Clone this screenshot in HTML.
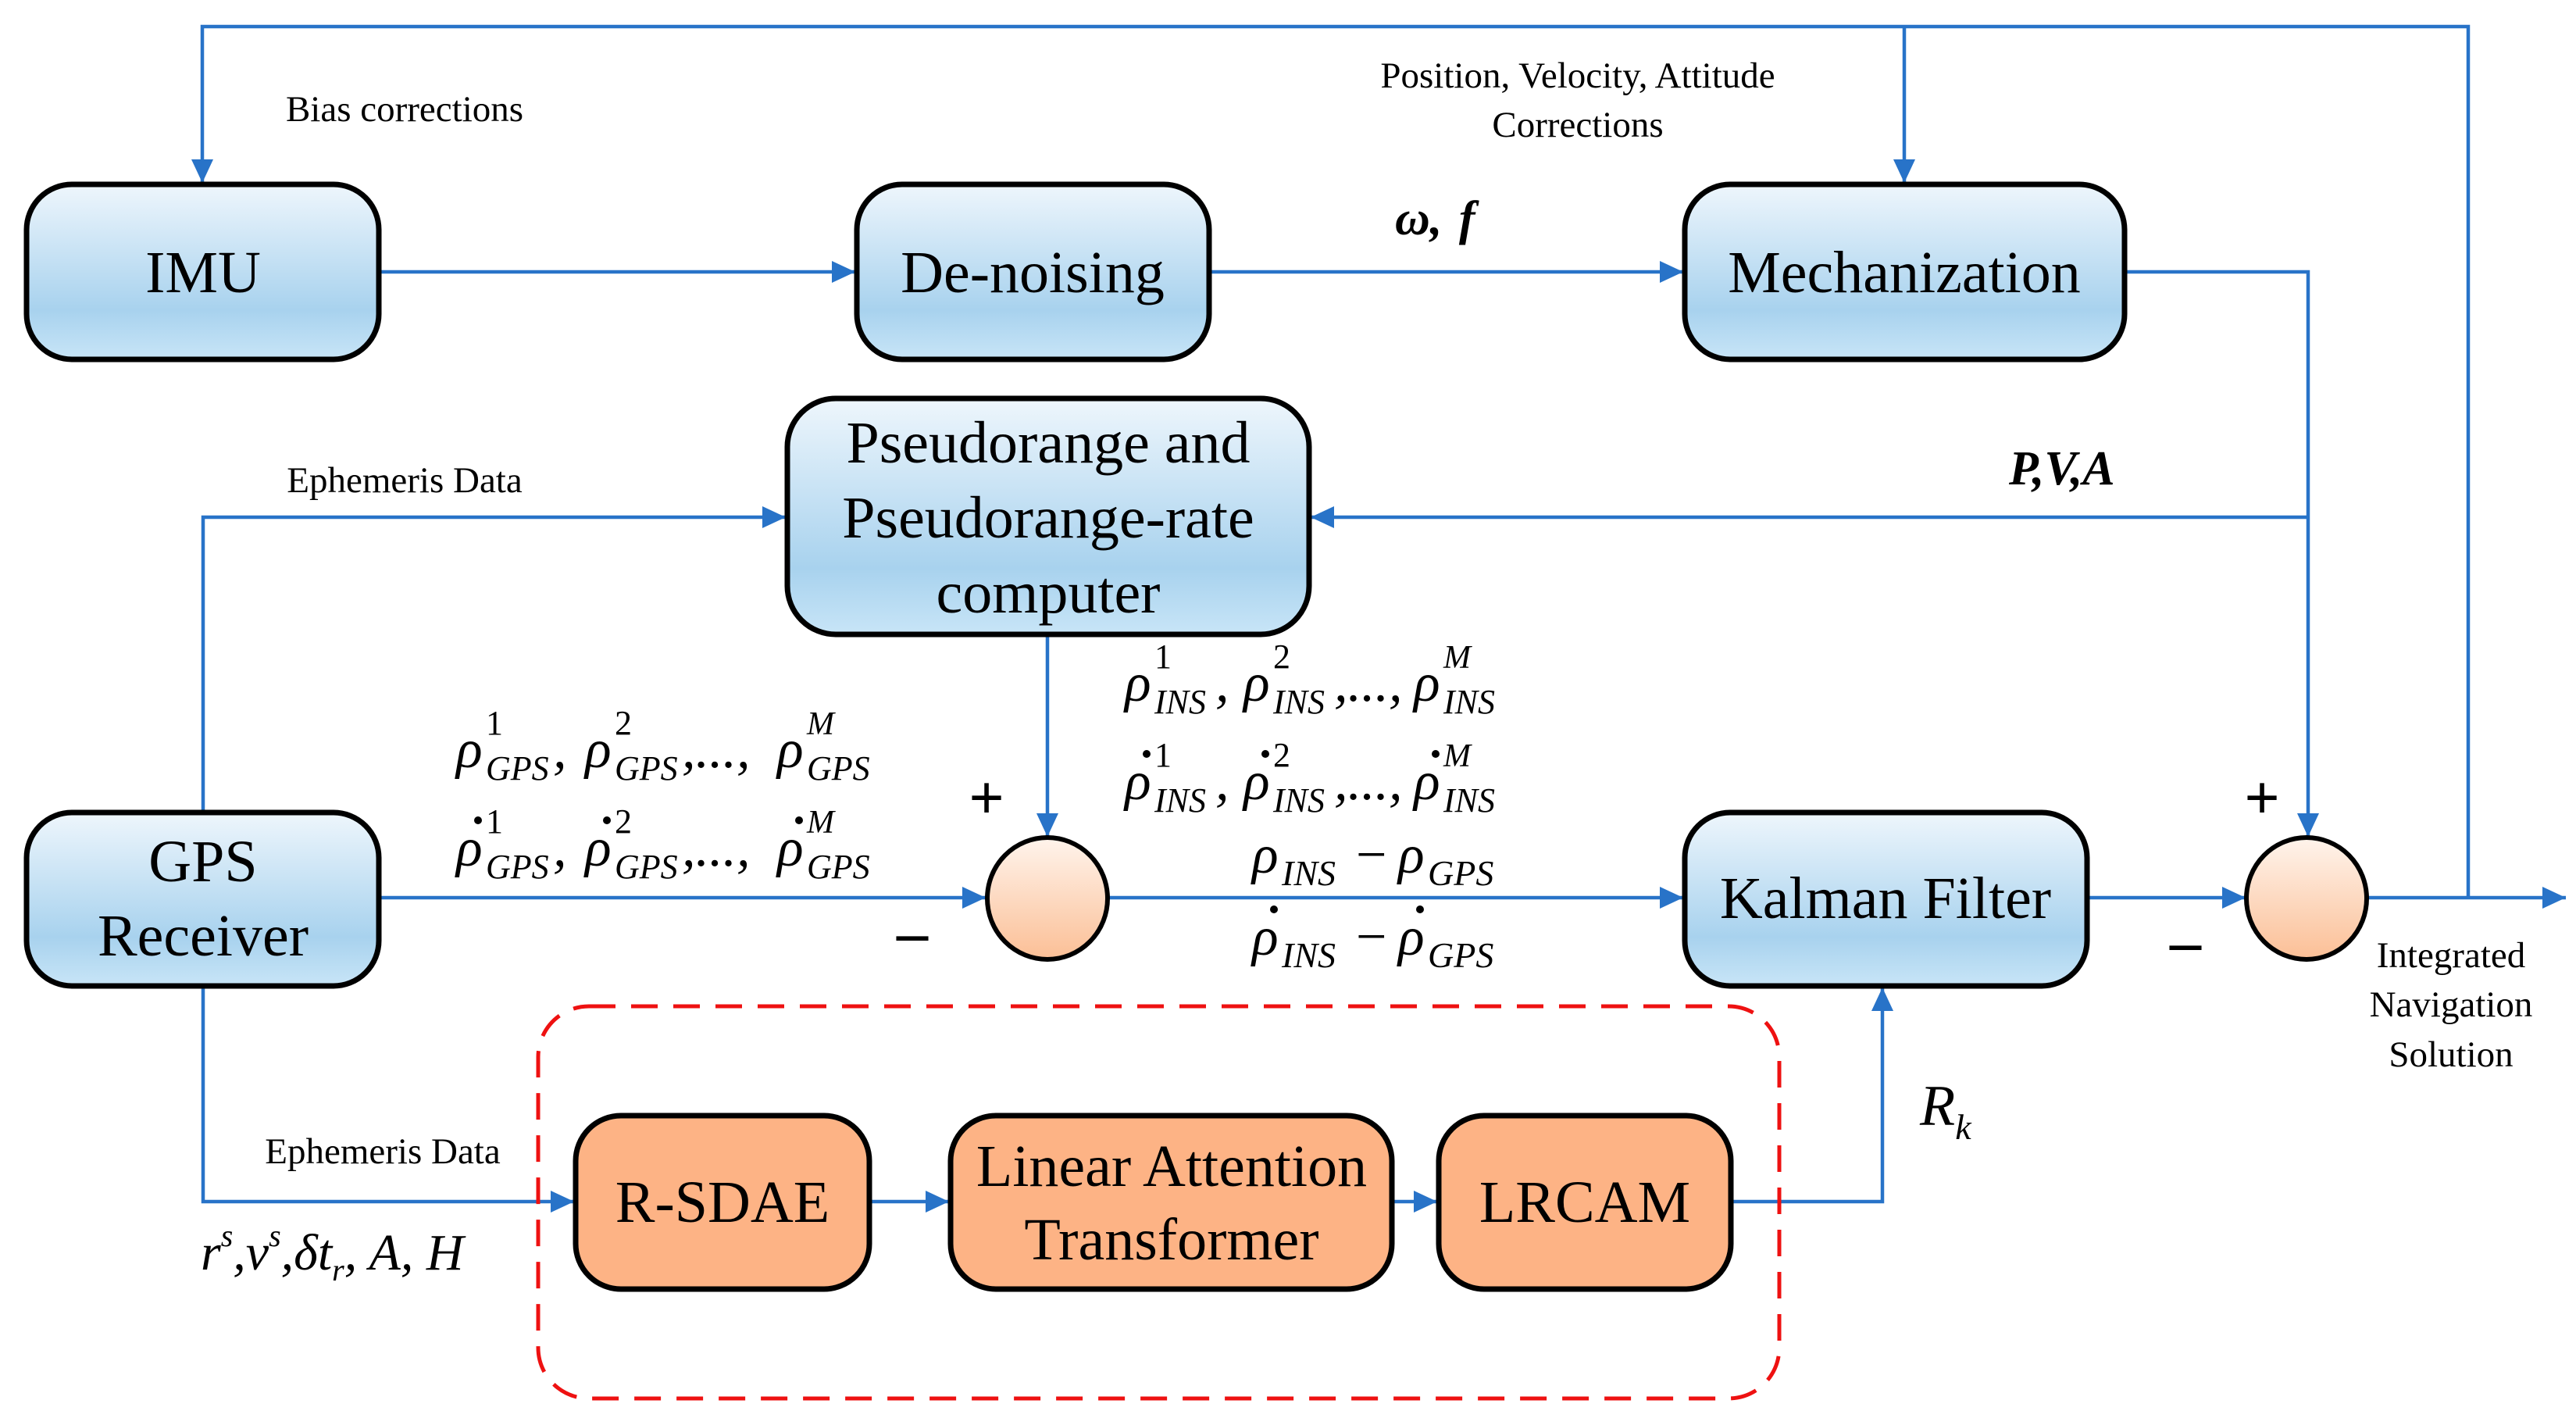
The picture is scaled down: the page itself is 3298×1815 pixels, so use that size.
<!DOCTYPE html>
<html><head><meta charset="utf-8"><style>html,body{margin:0;padding:0;background:#fff}svg{display:block;font-family:"Liberation Serif","Times New Roman",Times,serif}svg text{font-family:"Liberation Serif","Times New Roman",Times,serif}</style></head>
<body>
<svg width="3298" height="1815" viewBox="0 0 3298 1815" xmlns="http://www.w3.org/2000/svg" font-family="'Liberation Serif', 'Times New Roman', serif">
<defs>
<linearGradient id="bl" x1="0" y1="0" x2="0" y2="1">
<stop offset="0" stop-color="#eef6fc"/><stop offset="0.72" stop-color="#a8d2ee"/><stop offset="1" stop-color="#c8e5f7"/>
</linearGradient>
<linearGradient id="or" x1="0" y1="0" x2="0" y2="1">
<stop offset="0" stop-color="#fff4ec"/><stop offset="1" stop-color="#fbbf96"/>
</linearGradient>
<marker id="a" markerUnits="userSpaceOnUse" markerWidth="32" markerHeight="28" refX="30" refY="14" orient="auto">
<path d="M0,0 L30,14 L0,28 Z" fill="#2873c8"/>
</marker>
</defs>
<g fill="none" stroke="#2873c8" stroke-width="4.5">
<path d="M3160,1149 V34 H259 V234" marker-end="url(#a)"/>
<path d="M2438,34 V234" marker-end="url(#a)"/>
<path d="M487,348 H1095" marker-end="url(#a)"/>
<path d="M1548,348 H2155" marker-end="url(#a)"/>
<path d="M2720,348 H2955 V1071" marker-end="url(#a)"/>
<path d="M2955,662 H1678" marker-end="url(#a)"/>
<path d="M260,1040 V662 H1006" marker-end="url(#a)"/>
<path d="M1341,812 V1071" marker-end="url(#a)"/>
<path d="M487,1149 H1262" marker-end="url(#a)"/>
<path d="M1419,1149 H2155" marker-end="url(#a)"/>
<path d="M2672,1149 H2875" marker-end="url(#a)"/>
<path d="M3031,1149 H3285" marker-end="url(#a)"/>
<path d="M260,1262 V1538 H735" marker-end="url(#a)"/>
<path d="M1113,1538 H1215" marker-end="url(#a)"/>
<path d="M1782,1538 H1840" marker-end="url(#a)"/>
<path d="M2216,1538 H2410 V1264" marker-end="url(#a)"/>
</g>
<rect x="689" y="1288" width="1589" height="502" rx="65" fill="none" stroke="#ee1111" stroke-width="5" stroke-dasharray="34,20"/>
<g stroke="#000" stroke-width="7">
<rect x="34" y="236" width="451" height="224" rx="58" fill="url(#bl)"/>
<rect x="1097" y="236" width="451" height="224" rx="58" fill="url(#bl)"/>
<rect x="2157" y="236" width="563" height="224" rx="58" fill="url(#bl)"/>
<rect x="1008" y="510" width="668" height="302" rx="62" fill="url(#bl)"/>
<rect x="34" y="1040" width="451" height="222" rx="58" fill="url(#bl)"/>
<rect x="2157" y="1040" width="515" height="222" rx="58" fill="url(#bl)"/>
<rect x="737" y="1428" width="376" height="222" rx="58" fill="#fdb385"/>
<rect x="1217" y="1428" width="565" height="222" rx="58" fill="#fdb385"/>
<rect x="1842" y="1428" width="374" height="222" rx="58" fill="#fdb385"/>
<ellipse cx="1341" cy="1150" rx="77" ry="78" fill="url(#or)" stroke-width="6"/>
<ellipse cx="2953" cy="1150" rx="77" ry="78" fill="url(#or)" stroke-width="6"/>
</g>
<g font-size="76" text-anchor="middle" fill="#000">
<text x="260" y="374">IMU</text>
<text x="1322" y="374">De-noising</text>
<text x="2438" y="374">Mechanization</text>
<text x="1342" y="592">Pseudorange and</text>
<text x="1342" y="688">Pseudorange-rate</text>
<text x="1342" y="784">computer</text>
<text x="260" y="1128">GPS</text>
<text x="260" y="1223">Receiver</text>
<text x="2414" y="1175">Kalman Filter</text>
<text x="925" y="1564">R-SDAE</text>
<text x="1500" y="1518">Linear Attention</text>
<text x="1500" y="1612">Transformer</text>
<text x="2029" y="1564">LRCAM</text>
</g>
<g font-size="47" text-anchor="middle" fill="#000">
<text x="518" y="155">Bias corrections</text>
<text x="2020" y="112">Position, Velocity, Attitude</text>
<text x="2020" y="175">Corrections</text>
<text x="518" y="630">Ephemeris Data</text>
<text x="490" y="1489">Ephemeris Data</text>
<text x="3138" y="1238">Integrated</text>
<text x="3138" y="1301">Navigation</text>
<text x="3138" y="1365">Solution</text>
</g>
<g font-weight="bold" font-style="italic" font-size="62" fill="#000">
<text x="1786" y="300">ω, <tspan dx="6">f</tspan></text>
<text x="2572" y="620">P,V,A</text>
</g>
<g font-size="80" font-weight="bold" text-anchor="middle" fill="#000">
<text x="1263" y="1048">+</text>
<text x="1168" y="1220">–</text>
<text x="2896" y="1048">+</text>
<text x="2798" y="1232">–</text>
</g>
<g font-style="italic" font-size="70" fill="#000">
<text x="584" y="982">ρ</text><text x="622" y="940" font-size="44" font-style="normal">1</text><text x="622" y="998" font-size="44">GPS</text><text x="708" y="982">,</text>
<text x="749" y="982">ρ</text><text x="787" y="940" font-size="44" font-style="normal">2</text><text x="787" y="998" font-size="44">GPS</text><text x="873" y="982">,...,</text>
<text x="995" y="982">ρ</text><text x="1033" y="940" font-size="42">M</text><text x="1033" y="998" font-size="44">GPS</text>
<text x="584" y="1108">ρ</text><text x="622" y="1066" font-size="44" font-style="normal">1</text><text x="622" y="1124" font-size="44">GPS</text><text x="708" y="1108">,</text>
<text x="749" y="1108">ρ</text><text x="787" y="1066" font-size="44" font-style="normal">2</text><text x="787" y="1124" font-size="44">GPS</text><text x="873" y="1108">,...,</text>
<text x="995" y="1108">ρ</text><text x="1033" y="1066" font-size="42">M</text><text x="1033" y="1124" font-size="44">GPS</text>
<text x="1440" y="897">ρ</text><text x="1478" y="855" font-size="44" font-style="normal">1</text><text x="1478" y="913" font-size="44">INS</text><text x="1556" y="897">,</text>
<text x="1592" y="897">ρ</text><text x="1630" y="855" font-size="44" font-style="normal">2</text><text x="1630" y="913" font-size="44">INS</text><text x="1708" y="897">,...,</text>
<text x="1810" y="897">ρ</text><text x="1848" y="855" font-size="42">M</text><text x="1848" y="913" font-size="44">INS</text>
<text x="1440" y="1023">ρ</text><text x="1478" y="981" font-size="44" font-style="normal">1</text><text x="1478" y="1039" font-size="44">INS</text><text x="1556" y="1023">,</text>
<text x="1592" y="1023">ρ</text><text x="1630" y="981" font-size="44" font-style="normal">2</text><text x="1630" y="1039" font-size="44">INS</text><text x="1708" y="1023">,...,</text>
<text x="1810" y="1023">ρ</text><text x="1848" y="981" font-size="42">M</text><text x="1848" y="1039" font-size="44">INS</text>
<text x="1603" y="1117">ρ</text><text x="1641" y="1133" font-size="46">INS</text><text x="1736" y="1117" font-style="normal">−</text>
<text x="1790" y="1117">ρ</text><text x="1828" y="1133" font-size="46">GPS</text>
<text x="1603" y="1222">ρ</text><text x="1641" y="1238" font-size="46">INS</text><text x="1736" y="1222" font-style="normal">−</text>
<text x="1790" y="1222">ρ</text><text x="1828" y="1238" font-size="46">GPS</text>
<text x="257" y="1625" font-size="66">r<tspan font-size="40" dy="-30">s</tspan><tspan dy="30">,v</tspan><tspan font-size="40" dy="-30">s</tspan><tspan dy="30">,δt</tspan><tspan font-size="40" dy="14">r</tspan><tspan dy="-14">, A, H</tspan></text>
<text x="2458" y="1440" font-size="74">R<tspan font-size="46" dy="18">k</tspan></text>
</g>
<g fill="#000">
<circle cx="612" cy="1050" r="5"/><circle cx="777" cy="1050" r="5"/><circle cx="1023" cy="1050" r="5"/>
<circle cx="1468" cy="965" r="5"/><circle cx="1620" cy="965" r="5"/><circle cx="1838" cy="965" r="5"/>
<circle cx="1631" cy="1164" r="5"/><circle cx="1818" cy="1164" r="5"/>
</g>
</svg>
</body></html>
